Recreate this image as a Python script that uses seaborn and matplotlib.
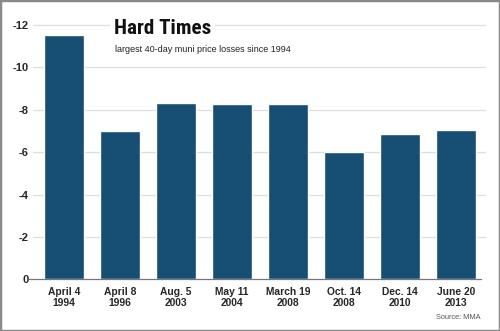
import matplotlib
matplotlib.use("Agg")
import matplotlib.pyplot as plt
import seaborn as sns
import pandas as pd
from matplotlib.patches import Rectangle
from matplotlib.ticker import FuncFormatter

dates = ["April 4\n1994", "April 8\n1996", "Aug. 5\n2003", "May 11\n2004",
         "March 19\n2008", "Oct. 14\n2008", "Dec. 14\n2010", "June 20\n2013"]
losses = [-11.5, -7.0, -8.3, -8.27, -8.27, -6.0, -6.87, -7.04]
yticks = [0, -2, -4, -6, -8, -10, -12]

title = "Hard Times"
subtitle = "largest 40-day muni price losses since 1994"
source = "Source: MMA"

sns.set_theme(style="white")
plt.rcParams['font.family'] = ['Liberation Sans', 'DejaVu Sans']

df = pd.DataFrame({"date": dates, "loss": losses})

fig = plt.figure(figsize=(5.0, 3.31), dpi=100)
ax = fig.add_axes([0.072, 0.156, 0.896, 0.7688])

sns.barplot(data=df, x="date", y="loss", color="#174e74", saturation=1,
            width=0.714, ax=ax, zorder=3)
ax.set_ylim(0, -12)
ax.set_xlim(-0.5, 7.5)
ax.set_yticks(yticks)
ax.yaxis.set_major_formatter(FuncFormatter(lambda v, p: f"{int(v)}" if v != 0 else "0"))
ax.set_xlabel("")
ax.set_ylabel("")
for s in ax.spines.values():
    s.set_visible(False)
for y in yticks:
    if y == 0:
        ax.plot([-0.62, 7.45], [0, 0], color="#777777", lw=0.9, clip_on=False, zorder=4)
    else:
        ax.plot([-0.55, 7.52], [y, y], color="#dddddd", lw=0.9, clip_on=False, zorder=1)
ax.tick_params(axis="y", length=0, pad=5.5, labelsize=8)
ax.tick_params(axis="x", length=0, pad=5.5, labelsize=7.4)
for lab in ax.get_yticklabels():
    lab.set_fontweight("bold")
for lab in ax.get_xticklabels():
    lab.set_fontweight("bold")
    lab.set_linespacing(1.12)

fig.text(0.228, 0.897, title, fontsize=15.2, fontweight=800,
         family=['Roboto Condensed', 'Liberation Sans', 'DejaVu Sans'],
         ha="left", va="baseline", color="#111111",
         bbox=dict(facecolor="white", edgecolor="none", pad=3))
fig.text(0.23, 0.842, subtitle, fontsize=6.5, color="#222222", ha="left", va="baseline")
fig.text(0.96, 0.035, source, fontsize=5.3, color="#555555", ha="right", va="baseline")

fig.patches.append(Rectangle((0, 0), 1, 1, transform=fig.transFigure, fill=False,
                             edgecolor="#8a8a8a", linewidth=2.5, zorder=10))

fig.savefig("out.png", dpi=100)
